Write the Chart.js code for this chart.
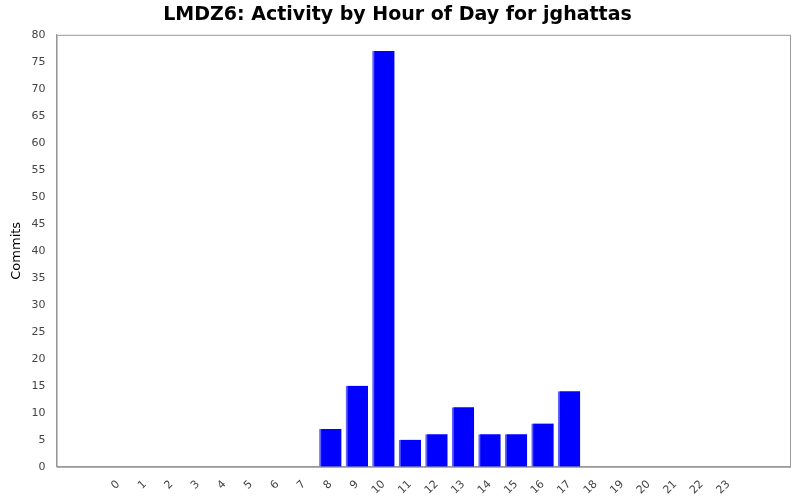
<!DOCTYPE html>
<html><head><script src="https://cdn.jsdelivr.net/npm/chart.js@4"></script>
<style>body{margin:0;background:#fff}#w{width:800px;height:500px}</style></head>
<body><div id="w"><canvas id="c"></canvas></div>
<script>
const hours=[0,1,2,3,4,5,6,7,8,9,10,11,12,13,14,15,16,17,18,19,20,21,22,23];
const commits=[0,0,0,0,0,0,0,0,7,15,77,5,6,11,6,6,8,14,0,0,0,0,0,0];
const frame={id:'frame',afterDraw(c){const a=c.chartArea,x=c.ctx;x.save();x.strokeStyle='#999';x.lineWidth=1;x.strokeRect(a.left+0.5,a.top+0.5,a.right-a.left,a.bottom-a.top);x.restore();}};
new Chart(document.getElementById('c'),{type:'bar',
data:{datasets:[{data:hours.map((h,i)=>({x:h,y:commits[i]})),backgroundColor:'#0000ff',borderColor:'#6060ff',borderWidth:{left:2},barThickness:22}]},
options:{responsive:true,maintainAspectRatio:false,animation:false,
layout:{padding:{right:10,left:5,top:0,bottom:0}},
plugins:{legend:{display:false},tooltip:{enabled:false},title:{display:true,text:'LMDZ6: Activity by Hour of Day for jghattas',font:{family:'DejaVu Sans',size:19,weight:'bold'},color:'#000',padding:{top:4,bottom:8}}},
scales:{x:{type:'linear',min:-1.75,max:24.75,grid:{display:false},border:{color:'#999'},
ticks:{stepSize:1,autoSkip:false,maxRotation:45,minRotation:45,font:{family:'DejaVu Sans',size:11},color:'#444',callback:v=>(Number.isInteger(v)&&v>=0&&v<=23)?String(v):''},
afterBuildTicks:s=>{s.ticks=hours.map(h=>({value:h}));}},
y:{min:0,max:80,grid:{display:false},border:{color:'#999'},ticks:{stepSize:5,font:{family:'DejaVu Sans',size:11},color:'#444'},
title:{display:true,text:'Commits',font:{family:'DejaVu Sans',size:13},color:'#000'}}}},
plugins:[frame]});
</script></body></html>
